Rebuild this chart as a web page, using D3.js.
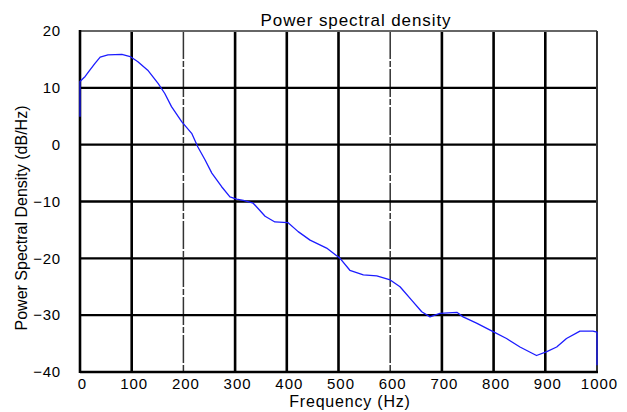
<!DOCTYPE html>
<html><head><meta charset="utf-8">
<script src="https://cdn.jsdelivr.net/npm/d3@7"></script>
<style>
html,body{margin:0;padding:0;background:#fff;}
text{font-family:"Liberation Sans",Arial,sans-serif;fill:#000;}
</style></head>
<body><svg id="c" width="627" height="412"></svg>
<script>
const freq = [0,0,10,19,29,39,54,81,97,112,131,151,164,177,197,216,228,242,255,274,290,303,316,335,358,377,402,422,445,477,503,522,548,574,600,619,641,661,677,696,729,741,767,799,825,851,883,903,922,941,967,992,1000,1000];
const psd = [4.9,11.1,12.0,13.1,14.3,15.4,15.8,15.9,15.5,14.6,13.1,10.8,9.0,6.7,4.0,2.0,-0.4,-2.7,-5.0,-7.4,-9.2,-9.6,-9.8,-10.3,-12.6,-13.6,-13.7,-15.3,-16.8,-18.2,-20.0,-22.1,-22.9,-23.1,-23.8,-25.0,-27.3,-29.4,-30.3,-29.7,-29.5,-30.3,-31.4,-32.9,-34.1,-35.6,-37.1,-36.4,-35.6,-34.1,-32.8,-32.8,-33.0,-38.8];
const xTicks = [0,100,200,300,400,500,600,700,800,900,1000];
const yTicks = [-40,-30,-20,-10,0,10,20];
const dashedX = [200,600];
const title = "Power spectral density";
const xLabel = "Frequency (Hz)";
const yLabel = "Power Spectral Density (dB/Hz)";

const svg = d3.select("#c");
const L = 80, R = 597, T = 31, B = 372;
const x = d3.scaleLinear().domain([0,1000]).range([L,R]);
const y = d3.scaleLinear().domain([-40,20]).range([B,T]);

// grid
const g = svg.append("g");
g.selectAll("line.v").data(xTicks.filter(d => d !== 0 && d !== 1000)).enter().append("line")
  .attr("x1", d => x(d)).attr("x2", d => x(d)).attr("y1", T).attr("y2", B)
  .attr("stroke", d => dashedX.includes(d) ? "#333" : "#000")
  .attr("stroke-width", d => dashedX.includes(d) ? 1.5 : 2.6)
  .attr("stroke-dasharray", d => dashedX.includes(d) ? "28,2,6,2" : null);
g.selectAll("line.h").data(yTicks.filter(d => d !== 20 && d !== -40)).enter().append("line")
  .attr("x1", L).attr("x2", R).attr("y1", d => y(d)).attr("y2", d => y(d))
  .attr("stroke", "#000").attr("stroke-width", 2.4);
// borders
g.append("line").attr("x1", L).attr("x2", R).attr("y1", y(20)).attr("y2", y(20)).attr("stroke", "#666").attr("stroke-width", 2);
g.append("line").attr("x1", x(1000)).attr("x2", x(1000)).attr("y1", T).attr("y2", B).attr("stroke", "#333").attr("stroke-width", 2);
g.append("line").attr("x1", L).attr("x2", R+1).attr("y1", y(-40)).attr("y2", y(-40)).attr("stroke", "#000").attr("stroke-width", 2.6);
g.append("line").attr("x1", x(0)).attr("x2", x(0)).attr("y1", T-1).attr("y2", B+1).attr("stroke", "#000").attr("stroke-width", 2.6);

// curve
const pts = freq.map((f,i) => [f, psd[i]]);
svg.append("path").datum(pts)
  .attr("d", d3.line().x(d => x(d[0])).y(d => y(d[1])))
  .attr("fill", "none").attr("stroke", "#1c1cff").attr("stroke-width", 1.3).attr("stroke-linejoin", "round");

// axes (labels only)
const xa = svg.append("g").attr("transform", `translate(0,${B})`)
  .call(d3.axisBottom(x).tickValues(xTicks).tickSize(0).tickPadding(6).tickFormat(d3.format("d")));
xa.select(".domain").remove();
xa.selectAll("text").attr("font-size", 15).attr("letter-spacing", 1).attr("dx", 2)
  .style("font-family", "Liberation Sans, Arial, sans-serif").attr("fill", "#111");

const ya = svg.append("g").attr("transform", `translate(${L},0)`)
  .call(d3.axisLeft(y).tickValues(yTicks).tickSize(0).tickPadding(19).tickFormat(d3.format("d")));
ya.select(".domain").remove();
ya.selectAll("text").attr("font-size", 15).attr("letter-spacing", 0.8)
  .style("font-family", "Liberation Sans, Arial, sans-serif").attr("fill", "#111");

svg.append("text").attr("x", 356).attr("y", 26).attr("text-anchor", "middle")
  .attr("font-size", 17).attr("letter-spacing", 0.9).attr("fill", "#111").text(title);
svg.append("text").attr("x", 350).attr("y", 407).attr("text-anchor", "middle")
  .attr("font-size", 16).attr("letter-spacing", 0.8).attr("fill", "#111").text(xLabel);
svg.append("text").attr("transform", "translate(27,218) rotate(-90)").attr("text-anchor", "middle")
  .attr("font-size", 16).attr("fill", "#111").text(yLabel);
</script></body></html>
